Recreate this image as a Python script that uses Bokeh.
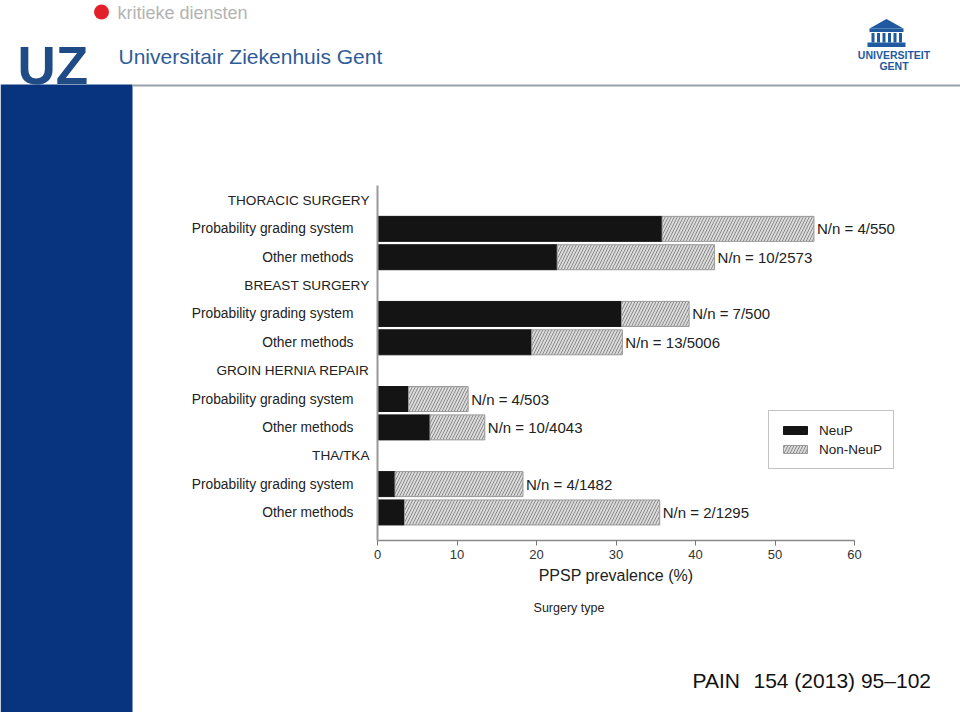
from bokeh.plotting import figure
from bokeh.models import Range1d, FixedTicker, LinearAxis, ColumnDataSource, Legend, LegendItem
from bokeh.core.properties import value
from bokeh.embed import file_html
from bokeh.resources import INLINE

# ---------------- data ----------------
sections = ["THORACIC SURGERY", "BREAST SURGERY", "GROIN HERNIA REPAIR", "THA/TKA"]
methods = ["Probability grading system", "Other methods"]
neup = [35.8, 22.6, 30.7, 19.4, 3.9, 6.6, 2.2, 3.4]
non_neup = [19.1, 19.8, 8.5, 11.4, 7.5, 6.9, 16.1, 32.1]
nn_labels = ["N/n = 4/550", "N/n = 10/2573", "N/n = 7/500", "N/n = 13/5006",
             "N/n = 4/503", "N/n = 10/4043", "N/n = 4/1482", "N/n = 2/1295"]
x_ticks = [0, 10, 20, 30, 40, 50, 60]
series_names = ["NeuP", "Non-NeuP"]

# ---------------- layout calibration ----------------
W, H = 960, 712
OFF = 0
PX0, PX_PER = 377.0, 7.95          # pixel of 0 %, pixels per %
ROW0, ROW_PX = 200.0, 28.36        # pixel of first row, pixels per row
def xv(px):
    return (px - PX0) / PX_PER
def rv(py):
    return (py - ROW0) / ROW_PX

FONT = "Liberation Sans"

section_rows = [3 * i for i in range(len(sections))]
method_rows = [3 * i + 1 + j for i in range(len(sections)) for j in range(len(methods))]
method_labels = [methods[j] for i in range(len(sections)) for j in range(len(methods))]

totals = [a + b for a, b in zip(neup, non_neup)]
src = ColumnDataSource(dict(row=method_rows, neup=neup, total=totals, lab=nn_labels,
                            zero=[0] * len(neup)))

p = figure(width=W, height=H,
           x_range=Range1d(xv(OFF), xv(OFF + W)),
           y_range=Range1d(rv(OFF + H), rv(OFF)),
           output_backend="svg", toolbar_location=None,
           min_border=0, min_border_left=0, min_border_right=0,
           min_border_top=0, min_border_bottom=0)
p.outline_line_color = None
p.background_fill_color = "white"
p.border_fill_color = "white"
p.grid.visible = False
p.extra_x_ranges = {"px": Range1d(OFF, OFF + W)}
p.extra_y_ranges = {"px": Range1d(OFF + H, OFF)}

PXR = dict(x_range_name="px", y_range_name="px")

# ---------------- slide decorations ----------------
p.quad(left=[0], right=[132], top=[84], bottom=[712], fill_color="#07337f",
       line_color=None, **PXR)
p.segment(x0=[132], y0=[85], x1=[960], y1=[85], line_color="#9ba1a8", line_width=2, **PXR)

# red dot + kritieke diensten
p.scatter(x=[101], y=[11.5], size=15, marker="circle", fill_color="#e3202a",
          line_color=None, **PXR)
p.text(x=[117], y=[12], text=["kritieke diensten"], text_font=value(FONT),
       text_font_size="18px", text_color="#b3b3b3", text_align="left",
       text_baseline="middle", **PXR)
# UZ logo
p.text(x=[17], y=[65], text=["UZ"], text_font=value(FONT), text_font_size="53px",
       text_font_style="bold", text_color="#1f4b86", text_align="left",
       text_baseline="alphabetic", **PXR)
p.text(x=[118], y=[56], text=["Universitair Ziekenhuis Gent"], text_font=value(FONT),
       text_font_size="21px", text_color="#2e5c98", text_align="left",
       text_baseline="middle", **PXR)

# Universiteit Gent logo
UG = "#1f5aa0"
p.patch(x=[869, 886, 903], y=[28, 18.5, 28], fill_color=UG, line_color=None, **PXR)
p.quad(left=[869], right=[903], top=[28], bottom=[31.5], fill_color=UG, line_color=None, **PXR)
p.quad(left=[871, 876.5, 882, 887.5, 893, 898.5], right=[874, 879.5, 885, 890.5, 896, 901.5],
       top=[32.5] * 6, bottom=[42] * 6, fill_color=UG, line_color=None, **PXR)
p.quad(left=[867], right=[905], top=[42], bottom=[46.5], fill_color=UG, line_color=None, **PXR)
p.text(x=[893.5], y=[54], text=["UNIVERSITEIT"], text_font=value(FONT),
       text_font_size="10.5px", text_font_style="bold", text_color=UG, text_align="center",
       text_baseline="middle", **PXR)
p.text(x=[893.5], y=[65.5], text=["GENT"], text_font=value(FONT),
       text_font_size="10.5px", text_font_style="bold", text_color=UG, text_align="center",
       text_baseline="middle", **PXR)

# footer reference + secondary caption
p.text(x=[692], y=[680], text=["PAIN"], text_font=value(FONT),
       text_font_size="21px", text_color="#111111", text_align="left",
       text_baseline="middle", **PXR)
p.text(x=[753], y=[680], text=["154 (2013) 95\u2013102"], text_font=value(FONT),
       text_font_size="21px", text_color="#111111", text_align="left",
       text_baseline="middle", **PXR)
p.text(x=[568.5], y=[607], text=["Surgery type"], text_font=value(FONT),
       text_font_size="12.5px", text_color="#222222", text_align="center",
       text_baseline="middle", **PXR)

# ---------------- bars ----------------
BAR_H = 25 / ROW_PX
r1 = p.hbar(y="row", left="zero", right="neup", height=BAR_H, source=src,
            fill_color="#141414", line_color="#141414", line_width=1)
r2 = p.hbar(y="row", left="neup", right="total", height=BAR_H, source=src,
            fill_color="#dadada", line_color="#9a9a9a", line_width=1,
            hatch_pattern="/", hatch_color="#8c8c8c", hatch_scale=6, hatch_weight=1)
p.text(x="total", y="row", text="lab", source=src, x_offset=3,
       text_font=value(FONT), text_font_size="15px", text_color="#222222",
       text_align="left", text_baseline="middle")

# ---------------- axes ----------------
x_axis_row = rv(540)
xa = p.xaxis[0]
xa.fixed_location = x_axis_row
xa.bounds = (x_ticks[0], x_ticks[-1])
xa.ticker = FixedTicker(ticks=x_ticks)
xa.minor_tick_line_color = None
xa.major_tick_out = 5
xa.major_tick_in = 0
xa.major_tick_line_color = "#777777"
xa.axis_line_color = "#8a8a8a"
xa.axis_line_width = 1.3
xa.major_label_text_font = FONT
xa.major_label_text_font_size = "13px"
xa.major_label_text_color = "#333333"
xa.major_label_standoff = 4
xa.axis_label = "PPSP prevalence (%)"
xa.axis_label_text_font = FONT
xa.axis_label_text_font_size = "16px"
xa.axis_label_text_font_style = "normal"
xa.axis_label_text_color = "#222222"
xa.axis_label_standoff = 5

ya = p.yaxis[0]
ya.fixed_location = 0
ya.bounds = (rv(185), x_axis_row)
ya.ticker = FixedTicker(ticks=method_rows)
ya.major_label_overrides = {r: t for r, t in zip(method_rows, method_labels)}
ya.minor_tick_line_color = None
ya.major_tick_line_color = None
ya.major_tick_out = 0
ya.major_tick_in = 0
ya.axis_line_color = "#999999"
ya.axis_line_width = 2
ya.major_label_text_font = FONT
ya.major_label_text_font_size = "13.8px"
ya.major_label_text_color = "#222222"
ya.major_label_standoff = 24

sa = LinearAxis(fixed_location=0, ticker=FixedTicker(ticks=section_rows),
                major_label_overrides={r: t for r, t in zip(section_rows, sections)},
                axis_line_color=None, major_tick_line_color=None, minor_tick_line_color=None,
                major_tick_out=0, major_tick_in=0, major_label_standoff=8,
                major_label_text_font=FONT, major_label_text_font_size="13.6px",
                major_label_text_color="#222222")
p.add_layout(sa, "left")

# ---------------- legend ----------------
legend = Legend(items=[LegendItem(label=series_names[0], renderers=[r1]),
                       LegendItem(label=series_names[1], renderers=[r2])],
                location=(768, H - 469), padding=11, spacing=3, label_height=16,
                glyph_width=30, glyph_height=10, label_standoff=9,
                label_text_font=FONT, label_text_font_size="13.5px",
                label_text_color="#222222", border_line_color="#888888",
                border_line_width=1, background_fill_color="white",
                background_fill_alpha=1.0, margin=0)
p.add_layout(legend)

open("out.html", "w").write(file_html(p, INLINE))
